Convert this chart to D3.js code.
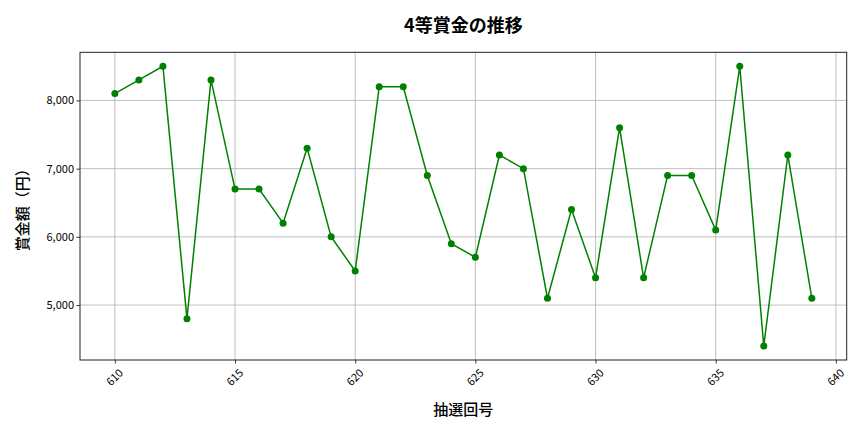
<!DOCTYPE html>
<html><head><meta charset="utf-8">
<script src="https://cdn.jsdelivr.net/npm/d3@7"></script>
<style>body{margin:0;background:#fff}text{font-family:"Noto Sans CJK JP","Noto Sans",sans-serif}</style>
</head><body>
<svg id="c" width="864" height="432"></svg>
<script>
const draws = [610,611,612,613,614,615,616,617,618,619,620,621,622,623,624,625,626,627,628,629,630,631,632,633,634,635,636,637,638,639];
const prizes = [8100,8300,8500,4800,8300,6700,6700,6200,7300,6000,5500,8200,8200,6900,5900,5700,7200,7000,5100,6400,5400,7600,5400,6900,6900,6100,8500,4400,7200,5100];
const xTicks = [610,615,620,625,630,635,640];
const yTicks = [5000,6000,7000,8000];
const title = "4等賞金の推移", xLabel = "抽選回号", yLabel = "賞金額（円）";

const svg = d3.select("#c");
const L=80, R=846.7, T=52.3, B=360;
const xmin=d3.min(draws), xmax=d3.max(draws), ymin=d3.min(prizes), ymax=d3.max(prizes);
const xp=(xmax-xmin)*0.05, yp=(ymax-ymin)*0.05;
const x=d3.scaleLinear().domain([xmin-xp,xmax+xp]).range([L,R]);
const y=d3.scaleLinear().domain([ymin-yp,ymax+yp]).range([B,T]);

const g=svg.append("g");
g.selectAll(".gx").data(xTicks).join("line").attr("x1",d=>x(d)).attr("x2",d=>x(d)).attr("y1",T).attr("y2",B).attr("stroke","#b0b0b0").attr("stroke-width",0.8);
g.selectAll(".gy").data(yTicks).join("line").attr("y1",d=>y(d)).attr("y2",d=>y(d)).attr("x1",L).attr("x2",R).attr("stroke","#b0b0b0").attr("stroke-width",0.8);

const xa=svg.append("g").attr("transform",`translate(0,${B})`).call(d3.axisBottom(x).tickValues(xTicks).tickSize(3.5).tickFormat(d3.format("d")));
xa.select(".domain").remove();
xa.selectAll("text").attr("font-size",11).attr("fill","#000").attr("text-anchor","middle").attr("dy",null).attr("y",0)
  .attr("transform","translate(0,18) rotate(-45)").attr("dominant-baseline","middle");
xa.selectAll("line").attr("stroke","#000").attr("stroke-width",0.8);
const ya=svg.append("g").attr("transform",`translate(${L},0)`).call(d3.axisLeft(y).tickValues(yTicks).tickSize(3.5).tickFormat(d3.format(",")));
ya.select(".domain").remove();
ya.selectAll("text").attr("font-size",11).attr("fill","#000").attr("x",-6);
ya.selectAll("line").attr("stroke","#000").attr("stroke-width",0.8);

const line=d3.line().x((d,i)=>x(draws[i])).y(d=>y(d));
svg.append("path").datum(prizes).attr("d",line).attr("fill","none").attr("stroke","#008000").attr("stroke-width",1.5);
svg.selectAll(".pt").data(prizes).join("circle").attr("cx",(d,i)=>x(draws[i])).attr("cy",d=>y(d)).attr("r",3.5).attr("fill","#008000");

svg.append("rect").attr("x",L).attr("y",T).attr("width",R-L).attr("height",B-T).attr("fill","none").attr("stroke","#222").attr("stroke-width",1);

svg.append("text").attr("x",(L+R)/2).attr("y",32).attr("text-anchor","middle").attr("font-size",18).attr("font-weight","bold").text(title);
svg.append("text").attr("x",(L+R)/2).attr("y",415).attr("text-anchor","middle").attr("font-size",15).attr("font-weight",500).text(xLabel);
svg.append("text").attr("transform",`translate(28,${(T+B)/2}) rotate(-90)`).attr("text-anchor","middle").attr("font-size",15).attr("font-weight",500).text(yLabel);
</script>
</body></html>
